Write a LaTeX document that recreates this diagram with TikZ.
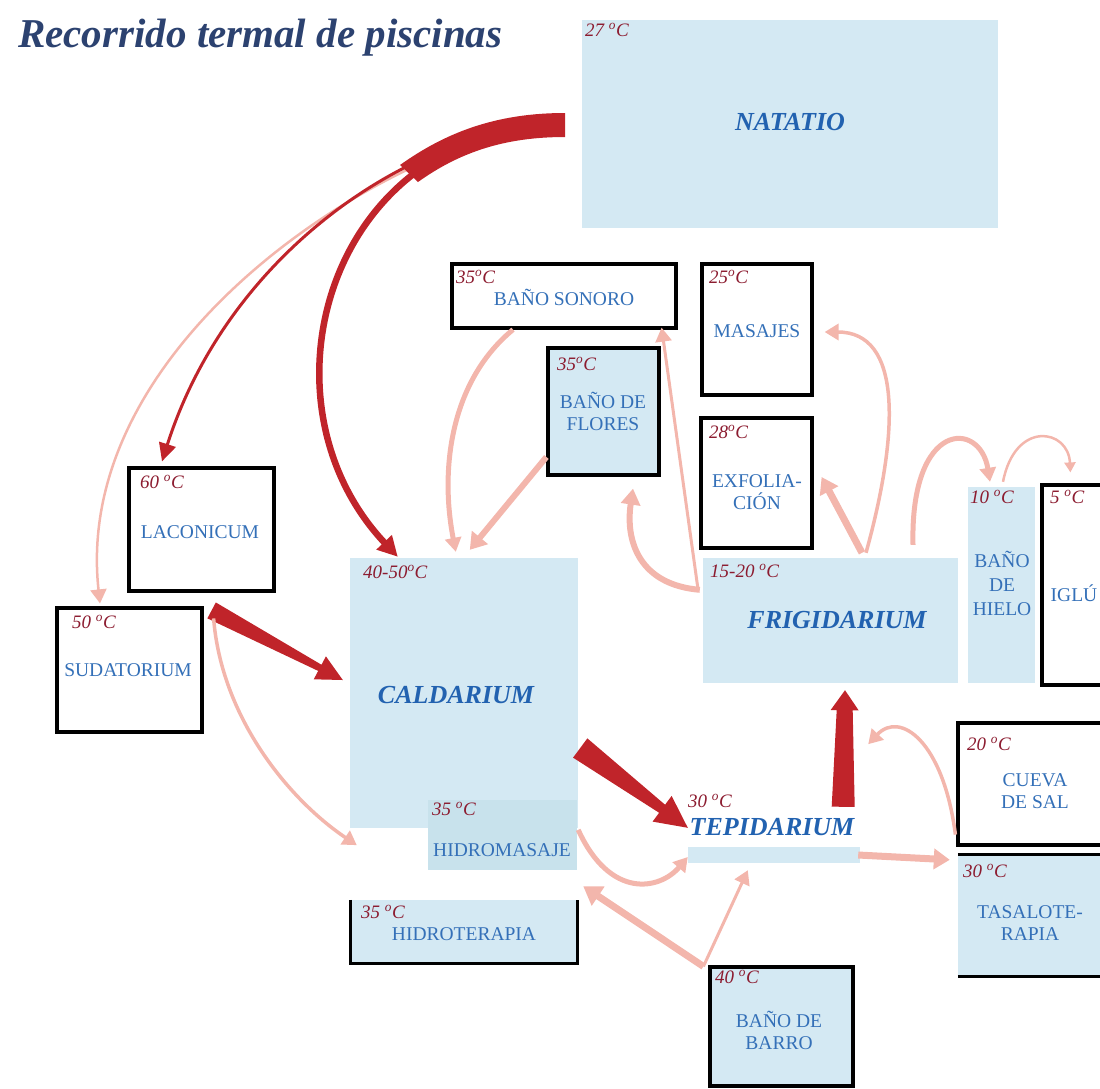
\documentclass[tikz,border=0pt]{standalone}
\usepackage{fontspec}
\setmainfont{Liberation Serif}
\usetikzlibrary{arrows.meta,calc}

\definecolor{celeste}{RGB}{212,233,243}
\definecolor{celesteos}{RGB}{200,226,236}
\definecolor{azul}{RGB}{52,112,184}
\definecolor{azulfuerte}{RGB}{34,98,176}
\definecolor{titulo}{RGB}{44,66,112}
\definecolor{granate}{RGB}{140,28,48}
\definecolor{rojo}{RGB}{192,36,42}
\definecolor{rosa}{RGB}{243,182,172}

\newcommand{\cuna}[7]{%
  \coordinate (cuello) at ($(#3)!#7!(#2)$);
  \fill[#1] ($(#2)!#4!90:(#3)$) -- ($(cuello)!#5!90:(#3)$) -- ($(cuello)!#6!90:(#3)$)
    -- (#3) -- ($(cuello)!#6!-90:(#3)$) -- ($(cuello)!#5!-90:(#3)$)
    -- ($(#2)!#4!-90:(#3)$) -- cycle;}

\tikzset{
  sala/.style={rectangle, draw=black, line width=3.2pt, fill=white, inner sep=0pt},
  pila/.style={rectangle, fill=celeste, inner sep=0pt},
  grados/.style={anchor=base west, inner sep=0pt, text=granate, font=\itshape\fontsize{19}{19}\selectfont},
  rotulo/.style={text=azul, align=center, inner sep=0pt, font=\fontsize{19.5}{22}\selectfont},
  termas/.style={text=azulfuerte, inner sep=0pt, font=\bfseries\itshape\fontsize{26}{26}\selectfont},
  flechaR/.style={draw=rojo, -{Triangle[length=20pt,width=20pt]}},
  flechaP/.style={draw=rosa, -{Triangle[length=14pt,width=16pt]}},
}

\begin{document}
\begin{tikzpicture}[x=1pt,y=-1pt]
    \useasboundingbox (0,0) rectangle (1100,1088);

    \node[pila, minimum width=416pt, minimum height=208pt] (natatio) at (790,124) {};
    \node[sala, minimum width=224pt, minimum height=64pt] (sonoro) at (564,296) {};
    \node[sala, minimum width=110pt, minimum height=131pt] (masajes) at (757,329.5) {};
    \node[sala, fill=celeste, minimum width=111pt, minimum height=127pt] (flores) at (603.5,411.5) {};
    \node[sala, minimum width=111pt, minimum height=130pt] (exfolia) at (756.5,483) {};
    \node[sala, minimum width=145pt, minimum height=123pt] (laconicum) at (201.5,529.5) {};
    \node[sala, minimum width=145pt, minimum height=124pt] (sudatorium) at (129.5,670) {};
    \node[pila, minimum width=228pt, minimum height=270pt] (caldarium) at (464,693) {};
    \node[pila, fill=celesteos, minimum width=149pt, minimum height=70pt] (hidromasaje) at (502.5,835) {};
    \node[pila, minimum width=226pt, minimum height=63pt] (hidroterapia) at (464,931.5) {};
    \node[pila, minimum width=172pt, minimum height=16pt] (tepidarium) at (774,855) {};
    \node[sala, fill=celeste, minimum width=143pt, minimum height=119pt] (barro) at (781.5,1026.5) {};
    \node[pila, minimum width=255pt, minimum height=125pt] (frigidarium) at (830.5,620.5) {};
    \node[pila, minimum width=67pt, minimum height=196pt] (hielo) at (1001.5,585) {};
    \node[sala, minimum width=88pt, minimum height=200pt] (iglu) at (1086,585) {};
    \node[sala, minimum width=172pt, minimum height=122pt] (cueva) at (1044,784) {};
    \node[pila, minimum width=160pt, minimum height=121pt] (tasalo) at (1038,915.5) {};
    \draw[line width=3.2pt] (hidroterapia.north west) -- (hidroterapia.south west)
        -- (hidroterapia.south east) -- (hidroterapia.north east);
    \draw[line width=3.2pt] (tasalo.north west) -- (tasalo.north east);
    \draw[line width=3.2pt] (tasalo.south west) -- (tasalo.south east);

    \node[anchor=base west, inner sep=0pt, text=titulo, font=\bfseries\itshape\fontsize{41}{41}\selectfont] (titulo) at (18,47) {Recorrido termal de piscinas};

    \node[grados] (natatio-g) at (585,36) {27 \textsuperscript{o}C};
    \node[grados] (sonoro-g) at (456,283) {35\textsuperscript{o}C};
    \node[grados] (masajes-g) at (709,283) {25\textsuperscript{o}C};
    \node[grados] (flores-g) at (557,370) {35\textsuperscript{o}C};
    \node[grados] (exfolia-g) at (709,438) {28\textsuperscript{o}C};
    \node[grados] (laconicum-g) at (140,488) {60 \textsuperscript{o}C};
    \node[grados] (sudatorium-g) at (72,628) {50 \textsuperscript{o}C};
    \node[grados] (caldarium-g) at (363,578) {40-50\textsuperscript{o}C};
    \node[grados] (hidromasaje-g) at (432,815) {35 \textsuperscript{o}C};
    \node[grados] (hidroterapia-g) at (361,918) {35 \textsuperscript{o}C};
    \node[grados] (tepidarium-g) at (688,807) {30 \textsuperscript{o}C};
    \node[grados] (barro-g) at (715,983) {40 \textsuperscript{o}C};
    \node[grados] (frigidarium-g) at (710,577) {15-20 \textsuperscript{o}C};
    \node[grados] (hielo-g) at (970,503) {10 \textsuperscript{o}C};
    \node[grados] (iglu-g) at (1050,503) {5 \textsuperscript{o}C};
    \node[grados] (cueva-g) at (967,750) {20 \textsuperscript{o}C};
    \node[grados] (tasalo-g) at (963,877) {30 \textsuperscript{o}C};

    \node[termas] (natatio-t) at (790,122) {NATATIO};
    \node[termas] (caldarium-t) at (456,695) {CALDARIUM};
    \node[termas] (frigidarium-t) at (837,620) {FRIGIDARIUM};
    \node[termas] (tepidarium-t) at (772,827) {TEPIDARIUM};
    \node[rotulo] (sonoro-t) at (564,297) {BAÑO SONORO};
    \node[rotulo] (masajes-t) at (757,331) {MASAJES};
    \node[rotulo] (flores-t) at (603,411) {BAÑO DE\\FLORES};
    \node[rotulo] (exfolia-t) at (757,492) {EXFOLIA-\\CIÓN};
    \node[rotulo] (laconicum-t) at (200,532) {LACONICUM};
    \node[rotulo] (sudatorium-t) at (128,670) {SUDATORIUM};
    \node[rotulo] (hidromasaje-t) at (502,850) {HIDROMASAJE};
    \node[rotulo] (hidroterapia-t) at (464,934) {HIDROTERAPIA};
    \node[rotulo] (barro-t) at (779,1030) {BAÑO DE\\BARRO};
    \node[rotulo] (hielo-t) at (1002,583) {BAÑO\\[2pt]DE\\[2pt]HIELO};
    \node[rotulo] (iglu-t) at (1074,593) {IGLÚ};
    \node[rotulo] (cueva-t) at (1035,791) {CUEVA\\DE SAL};
    \node[rotulo] (tasalo-t) at (1030,923) {TASALOTE-\\RAPIA};

    \coordinate (raiz) at ([shift={(-17,1)}]natatio.west);
    \draw[flechaP, line width=2.5pt] ([shift={(-22,2)}]natatio.west)
        .. controls +(-140,0) and +(-30,-275) .. ([shift={(-29.5,-3)}]sudatorium.north);
    \fill[rojo] (565,113) .. controls (495,113) and (445,133) .. (400,165)
        -- (418,182) .. controls (460,152) and (505,137) .. (565,137) -- cycle;
    \draw[flechaR, line width=3pt, -{Triangle[length=18pt,width=17pt]}] (raiz)
        .. controls +(-145,0) and +(68,-213) .. ([shift={(-39.5,-5)}]laconicum.north);
    \draw[flechaR, line width=6.5pt] (raiz)
        .. controls +(-235,0) and +(-148,-157) .. ([shift={(48,-1)}]caldarium.north west);

    \coordinate (w1a) at ([shift={(8,4)}]sudatorium.north east);
    \coordinate (w1b) at ([shift={(-7,-13)}]caldarium.west);
    \cuna{rojo}{w1a}{w1b}{9pt}{3.5pt}{13pt}{26pt}
    \coordinate (w2a) at ([shift={(2,55)}]caldarium.east);
    \coordinate (w2b) at ([shift={(0,-19)}]tepidarium.north west);
    \cuna{rojo}{w2a}{w2b}{12pt}{5pt}{16pt}{32pt}
    \coordinate (w3a) at ([shift={(-17,-40)}]tepidarium.north east);
    \coordinate (w3b) at ([shift={(14.5,7)}]frigidarium.south);
    \cuna{rojo}{w3a}{w3b}{11.5pt}{8pt}{14pt}{20pt}

    \draw[flechaP, line width=3.5pt] ([shift={(10,12)}]sudatorium.north east)
        .. controls +(8,100) and +(-67,-45) .. ([shift={(7,17)}]caldarium.south west);
    \draw[flechaP, line width=5pt] ([shift={(-51,0)}]sonoro.south)
        .. controls +(-63,52) and +(-16,-82) .. ([shift={(106,-6)}]caldarium.north west);
    \draw[flechaP, line width=6pt, -{Triangle[length=16pt,width=20pt]}] ([shift={(0,45.5)}]flores.west)
        -- ([shift={(120,-8)}]caldarium.north west);
    \draw[flechaP, line width=6pt, -{Triangle[length=16pt,width=19pt]}] ([shift={(-3,32)}]frigidarium.north west)
        .. controls +(-60,-5) and +(-8,53) .. ([shift={(29.5,12)}]flores.south);
    \draw[flechaP, line width=3pt] ([shift={(-5,30)}]frigidarium.north west)
        -- ([shift={(-16,-2)}]sonoro.south east);
    \draw[flechaP, line width=7pt, -{Triangle[length=16pt,width=20pt]}] ([shift={(31.5,-5)}]frigidarium.north)
        -- ([shift={(8,-6)}]exfolia.east);
    \draw[flechaP, line width=3.5pt] ([shift={(35.5,-5)}]frigidarium.north)
        .. controls +(34,-123) and +(77,0) .. ([shift={(11,2.5)}]masajes.east);
    \draw[flechaP, line width=5pt] ([shift={(82.5,-13)}]frigidarium.north)
        .. controls +(-3,-125) and +(-10,-62) .. ([shift={(-11.5,-5)}]hielo.north);
    \draw[flechaP, line width=2.5pt, -{Triangle[length=10pt,width=11pt]}] ([shift={(1.5,-5)}]hielo.north)
        .. controls +(12,-62) and +(-2,-44) .. ([shift={(30,-11)}]iglu.north west);
    \draw[flechaP, line width=3.5pt] ([shift={(-1,-12)}]cueva.south west)
        .. controls +(-12,-93) and +(32,-34) .. ([shift={(-90,61)}]frigidarium.south east);
    \draw[flechaP, line width=7pt, -{Triangle[length=16pt,width=20pt]}] ([shift={(-2,0)}]tepidarium.east)
        -- ([shift={(-8,5)}]tasalo.north west);
    \draw[flechaP, line width=5pt] ([shift={(1,30)}]hidromasaje.north east)
        .. controls +(32,70) and +(-28,33) .. ([shift={(0,2)}]tepidarium.west);
    \draw[flechaP, line width=7pt, -{Triangle[length=18pt,width=22pt]}] ([shift={(-5,1)}]barro.north west)
        -- ([shift={(6,16)}]hidromasaje.south east);
    \draw[flechaP, line width=3pt] ([shift={(-5,1)}]barro.north west)
        -- ([shift={(60,7)}]tepidarium.south west);
\end{tikzpicture}
\end{document}
